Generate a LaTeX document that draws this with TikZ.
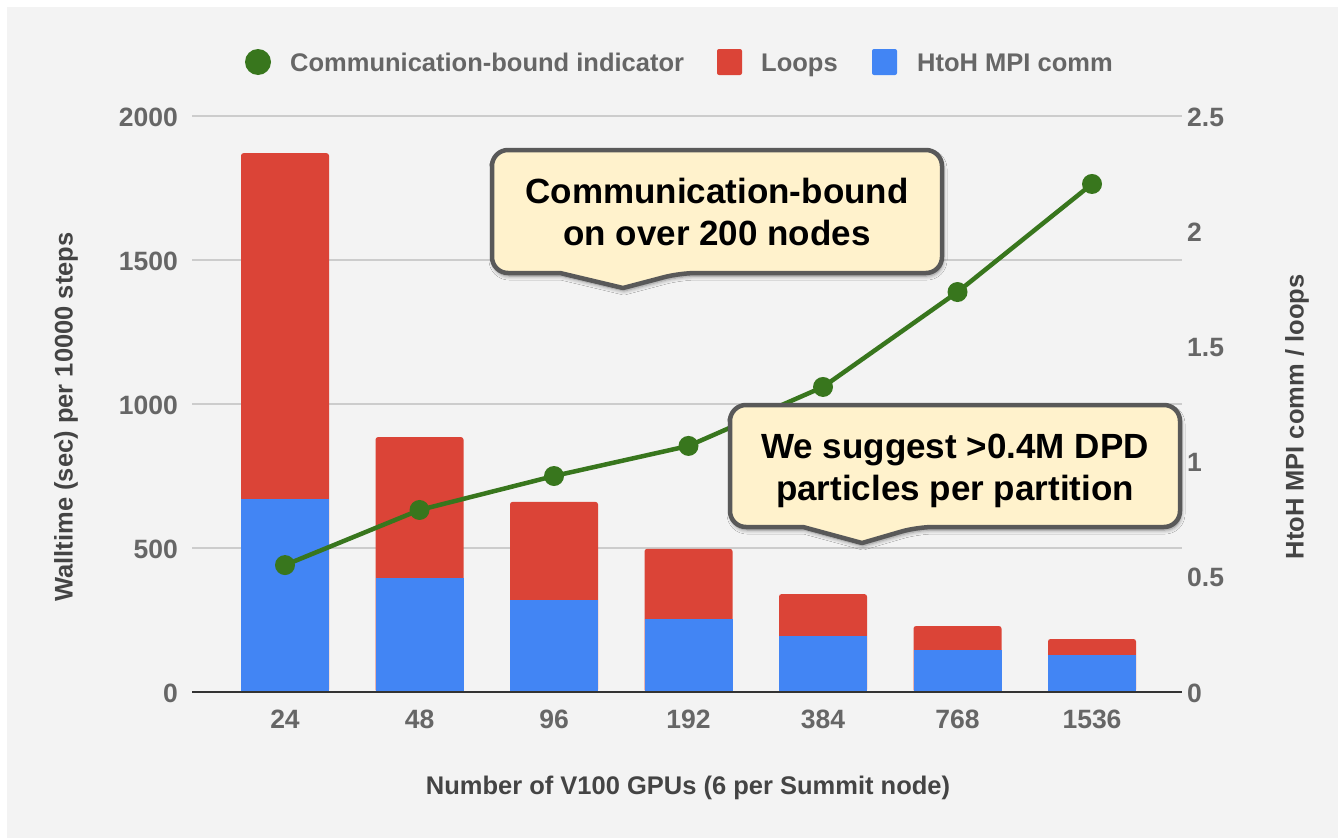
\documentclass[tikz,border=0pt]{standalone}
\usepackage{fontspec}
\setmainfont{Liberation Sans}
\usetikzlibrary{shadows.blur}

\definecolor{panelbg}{HTML}{F3F3F3}
\definecolor{gridgray}{HTML}{CCCCCC}
\definecolor{axisdark}{HTML}{333333}
\definecolor{labelgray}{HTML}{666666}
\definecolor{titlegray}{HTML}{444444}
\definecolor{loopsred}{HTML}{DB4437}
\definecolor{commblue}{HTML}{4285F4}
\definecolor{indgreen}{HTML}{38761D}
\definecolor{notefill}{HTML}{FFF2CC}
\definecolor{noteedge}{HTML}{595959}

\tikzset{
  gridline/.style={draw=gridgray, line width=1.5pt},
  baseline/.style={draw=axisdark, line width=2pt},
  ticklabel/.style={text=labelgray, font=\fontsize{26.5}{30}\selectfont\bfseries, inner sep=0pt},
  legendlabel/.style={text=labelgray, font=\fontsize{25.5}{30}\selectfont\bfseries, inner sep=0pt, anchor=base west},
  axistitle/.style={text=titlegray, font=\fontsize{25.5}{30}\selectfont\bfseries, inner sep=0pt},
  indline/.style={draw=indgreen, line width=4.5pt},
  inddot/.style={fill=indgreen},
  loopsbar/.style={fill=loopsred, rounded corners=2.5pt},
  commbar/.style={fill=commblue},
  callout/.style={fill=notefill, draw=noteedge, line width=4.5pt, line join=round,
    blur shadow={shadow xshift=1pt, shadow yshift=-3pt, shadow blur radius=4pt,
                 shadow blur steps=6, shadow opacity=45}},
  notetext/.style={font=\fontsize{35}{42}\selectfont\bfseries, align=center, inner sep=0pt, text=black},
}

\begin{document}
\begin{tikzpicture}[x=1pt, y=-1pt]
  % canvas and chart panel
  \fill[white] (0,0) rectangle (1338,838);
  \fill[panelbg] (7,7) rectangle (1338,838);
  \useasboundingbox (0,0) rectangle (1338,838);

  % horizontal grid
  \foreach \gy in {116,260,404,548}
    \draw[gridline] (192,\gy) -- (1182,\gy);

  % stacked bars, category labels and indicator points
  \foreach \i/\tot/\comm/\ratio/\lab in {
      0/1871/670/0.551/24, 1/885/396/0.790/48, 2/660/319/0.9375/96,
      3/497/253/1.068/192, 4/340/194/1.324/384, 5/229/146/1.736/768,
      6/184/128/2.205/1536}{
    \pgfmathsetmacro{\xc}{285+134.5*\i}
    \pgfmathsetmacro{\ytot}{692-0.288*\tot}
    \pgfmathsetmacro{\ycomm}{692-0.288*\comm}
    \fill[loopsbar] (\xc-44,692) rectangle (\xc+44,\ytot);
    \fill[commbar] (\xc-44,692) rectangle (\xc+44,\ycomm);
    \node[ticklabel, anchor=base] (xtick\i) at (\xc,728) {\lab};
    \coordinate (pt\i) at (\xc,{692-230.4*\ratio});
  }

  % x axis line
  \draw[baseline] (192,692) -- (1182,692);

  % left axis ticks
  \foreach \v/\gy in {2000/116,1500/260,1000/404,500/548,0/692}
    \node[ticklabel, anchor=base east] (ltick\v) at (178,\gy+10) {\v};
  % right axis ticks
  \foreach \k/\v/\gy in {a/2.5/116,b/2/231.2,c/1.5/346.4,d/1/461.6,e/0.5/576.8,f/0/692}
    \node[ticklabel, anchor=base west] (rtick\k) at (1187,\gy+10) {\v};

  % communication-bound indicator
  \draw[indline] (pt0) -- (pt1) -- (pt2) -- (pt3) -- (pt4) -- (pt5) -- (pt6);
  \foreach \i in {0,...,6}
    \fill[inddot] (pt\i) circle[radius=10pt];

  % axis titles
  \node[axistitle, anchor=base] (xtitle) at (688,794) {Number of V100 GPUs (6 per Summit node)};
  \node[axistitle, rotate=90] (ltitle) at (66,417) {Walltime (sec) per 10000 steps};
  \node[axistitle, rotate=90] (rtitle) at (1297,417) {HtoH MPI comm / loops};

  % legend
  \fill[inddot] (258,62) circle[radius=13pt];
  \node[legendlabel] (legind) at (290,71) {Communication-bound indicator};
  \fill[loopsred, rounded corners=2pt] (717,49) rectangle (742,75);
  \node[legendlabel] (legloops) at (761,71) {Loops};
  \fill[commblue, rounded corners=2pt] (872,49) rectangle (897,75);
  \node[legendlabel] (legcomm) at (917,71) {HtoH MPI comm};

  % callouts
  \draw[callout] (560,273) [rounded corners=16pt] -- (492,273) -- (492,150) -- (942,150)
    -- (942,273) -- (680,273) [sharp corners] -- (623,288) -- cycle;
  \node[notetext] (note1) at (717,212.3) {Communication-bound\\on over 200 nodes};

  \draw[callout] (803,527) [rounded corners=16pt] -- (730,527) -- (730,405) -- (1180,405)
    -- (1180,527) -- (917,527) [sharp corners] -- (862,543) -- cycle;
  \node[notetext] (note2) at (955,471) {We suggest >0.4M DPD\\particles per partition};
\end{tikzpicture}
\end{document}
